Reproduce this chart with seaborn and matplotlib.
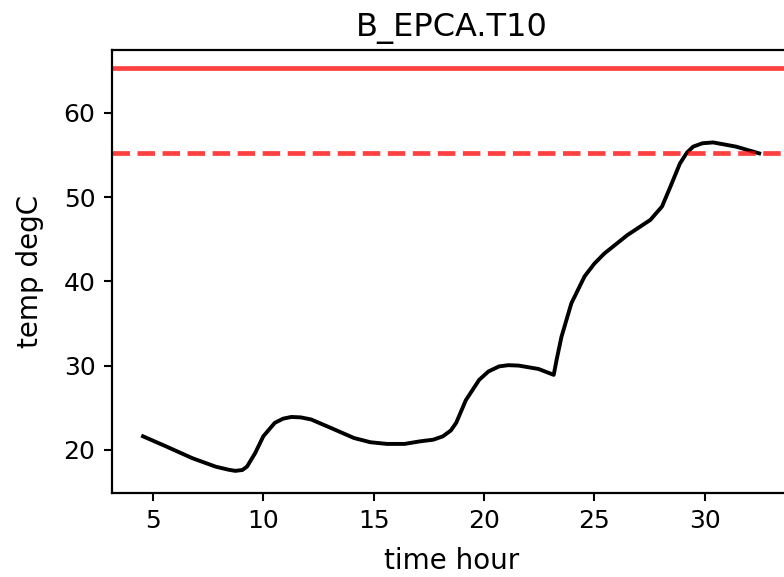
import numpy as np
import matplotlib
matplotlib.use('Agg')
import matplotlib.pyplot as plt
import seaborn as sns

# ==============================================================================
# DATA
# ==============================================================================

hours = [4.55, 5.60, 6.79, 7.84, 8.40, 8.73, 9.05, 9.26, 9.63, 10.0,
         10.52, 10.90, 11.27, 11.70, 12.17, 13.06, 14.11, 14.85, 15.6, 16.4,
         17.09, 17.70, 18.14, 18.50, 18.74, 19.18, 19.78, 20.20, 20.68, 21.10,
         21.57, 22.47, 23.16, 23.30, 23.51, 23.96, 24.56, 25.0, 25.45, 26.5,
         27.54, 28.07, 28.44, 28.88, 29.20, 29.48, 29.90, 30.38, 31.42, 32.47]
temps = [21.6, 20.4, 19.0, 18.0, 17.65, 17.5, 17.6, 18.0, 19.6, 21.6,
         23.2, 23.7, 23.9, 23.85, 23.6, 22.6, 21.4, 20.9, 20.7, 20.7,
         21.0, 21.2, 21.6, 22.3, 23.2, 25.9, 28.3, 29.3, 29.9, 30.05,
         30.0, 29.6, 28.9, 30.8, 33.4, 37.4, 40.6, 42.1, 43.3, 45.5,
         47.3, 48.9, 51.2, 54.0, 55.3, 56.0, 56.4, 56.5, 56.0, 55.2]

limit_max = 65.3
limit_warn = 55.3

title = 'B_EPCA.T10'
x_label = 'time hour'
y_label = 'temp degC'

# ==============================================================================
# PLOT
# ==============================================================================

plt.rcParams['font.family'] = ['DejaVu Sans']

fig = plt.figure(figsize=(7.84, 5.77), dpi=100)
ax = fig.add_axes([0.143, 0.146, 0.867, 0.767])

sns.lineplot(x=hours, y=temps, color='black', linewidth=2.8, ax=ax)
ax.axhline(limit_max, color='red', alpha=0.75, linewidth=3.4)
ax.axhline(limit_warn, color='red', alpha=0.75, linewidth=3.4, linestyle='--')

ax.set_xlim(3.15, 33.95)
ax.set_ylim(14.9, 67.45)
ax.set_xticks([5, 10, 15, 20, 25, 30])
ax.set_yticks([20, 30, 40, 50, 60])

ax.set_title(title, fontsize=23, pad=10)
ax.set_xlabel(x_label, fontsize=20, labelpad=10)
ax.set_ylabel(y_label, fontsize=20, labelpad=14)

for spine in ax.spines.values():
    spine.set_linewidth(1.6)
ax.tick_params(axis='both', labelsize=18, width=1.5, length=6, pad=6)

fig.savefig('out.png', dpi=100)
